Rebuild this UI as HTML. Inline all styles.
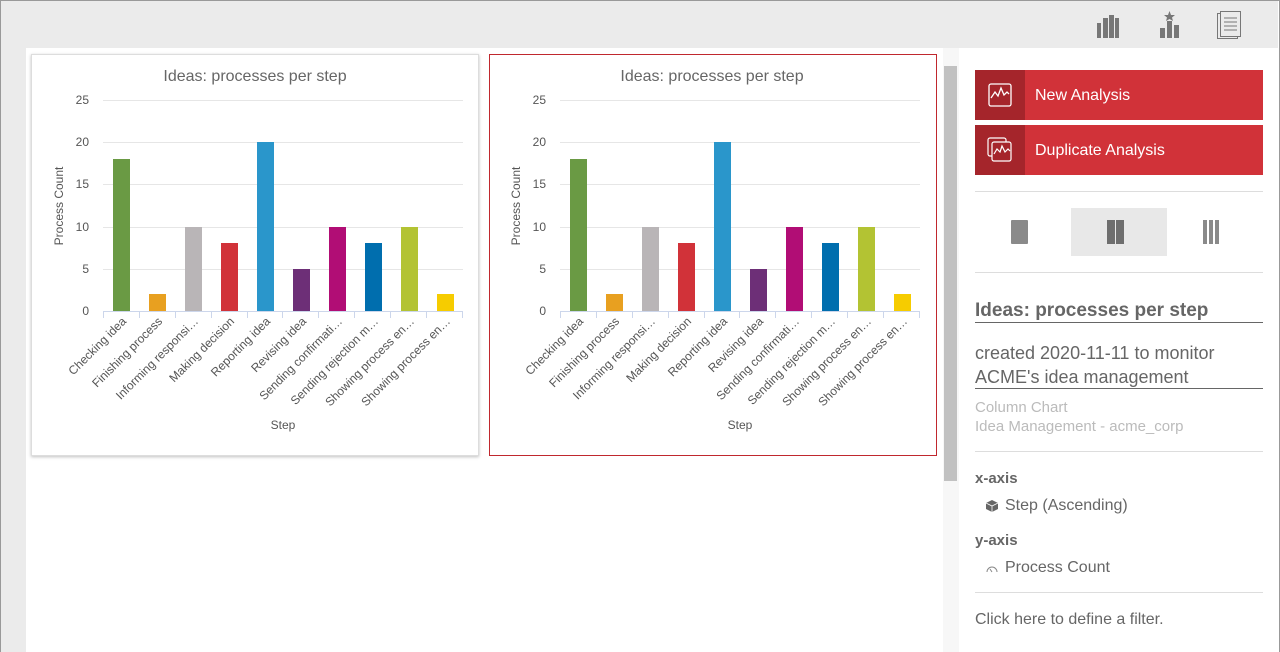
<!DOCTYPE html>
<html><head><meta charset="utf-8"><style>
*{margin:0;padding:0;box-sizing:border-box}
body{width:1280px;height:652px;overflow:hidden;background:#fff;font-family:"Liberation Sans",sans-serif;position:relative}
.a{position:absolute}
.btn{position:absolute;left:975px;width:288px;height:50px;background:#d13239;color:#fff;font-size:16px;line-height:52px}
.btn .ic{position:absolute;left:0;top:0;width:50px;height:50px;background:#a5252b}
.btn span{position:absolute;left:60px}
.hr{position:absolute;left:975px;width:288px;height:1px;background:#ddd}
</style></head><body>
<div class="a" style="left:0;top:0;width:1280px;height:652px;border:1px solid #999;border-bottom:none"></div>
<div class="a" style="left:1px;top:1px;width:1277px;height:47px;background:#ebebeb"></div>
<div class="a" style="left:1px;top:48px;width:25px;height:604px;background:#ebebeb"></div>
<svg class="a" style="left:1090px;top:8px" width="170" height="36">
<g fill="#777"><rect x="7" y="15" width="4" height="15"/><rect x="13" y="10" width="5" height="20"/><rect x="19" y="7" width="5" height="23"/><rect x="25" y="10" width="4" height="20"/>
<rect x="70" y="20" width="5" height="10"/><rect x="77" y="13" width="5" height="17"/><rect x="84" y="17" width="5" height="13"/>
<polygon points="79.5,3 81,7 85,7 82,9.5 83,13 79.5,11 76,13 77,9.5 74,7 78,7"/></g>
<g fill="none" stroke="#777" stroke-width="1"><rect x="127.5" y="5.5" width="20" height="25"/><rect x="130.5" y="3.5" width="20" height="25" fill="#ebebeb"/>
<path d="M134 10h13M134 14h13M134 18h13M134 22h13"/></g>
</svg>
<div class="a" style="left:943px;top:48px;width:16px;height:604px;background:#f7f7f7"></div>
<div class="a" style="left:944px;top:66px;width:13px;height:415px;background:#c1c1c1"></div>
<div class="a" style="left:31px;top:54px;width:448px;height:402px;border:1px solid #ddd;box-shadow:0 1px 3px rgba(0,0,0,.25)"></div>
<div class="a" style="left:489px;top:54px;width:448px;height:402px;border:1px solid #c0282e"></div>
<svg class="a" style="left:0;top:0" width="943" height="470" font-family="Liberation Sans, sans-serif">
<defs><g id="ch">
<text x="255" y="81" text-anchor="middle" font-size="16" fill="#666">Ideas: processes per step</text>
<g stroke="#e6e6e6" stroke-width="1"><path d="M103 100.5H463M103 142.5H463M103 184.5H463M103 227.5H463M103 269.5H463"/></g>
<g font-size="12" fill="#555" text-anchor="end"><text x="89" y="104">25</text><text x="89" y="146">20</text><text x="89" y="188">15</text><text x="89" y="231">10</text><text x="89" y="273">5</text><text x="89" y="315">0</text></g>
<text transform="translate(63,206) rotate(-90)" text-anchor="middle" font-size="12" fill="#555">Process Count</text>
<rect x="113" y="159" width="17" height="152" fill="#6a9a44"/>
<rect x="149" y="294" width="17" height="17" fill="#e8a020"/>
<rect x="185" y="227" width="17" height="84" fill="#b9b5b7"/>
<rect x="221" y="243" width="17" height="68" fill="#d13239"/>
<rect x="257" y="142" width="17" height="169" fill="#2a96cb"/>
<rect x="293" y="269" width="17" height="42" fill="#6d2f77"/>
<rect x="329" y="227" width="17" height="84" fill="#b10d75"/>
<rect x="365" y="243" width="17" height="68" fill="#006eae"/>
<rect x="401" y="227" width="17" height="84" fill="#b3c333"/>
<rect x="437" y="294" width="17" height="17" fill="#f6cc00"/>
<path d="M103 311.5H463M103.5 311V318M139.5 311V318M175.5 311V318M211.5 311V318M247.5 311V318M282.5 311V318M318.5 311V318M354.5 311V318M390.5 311V318M426.5 311V318M462.5 311V318" stroke="#ccd6eb" stroke-width="1"/>
<g font-size="12" fill="#555" text-anchor="end">
<text transform="translate(127,322) rotate(-45)">Checking idea</text>
<text transform="translate(163,322) rotate(-45)">Finishing process</text>
<text transform="translate(199,322) rotate(-45)">Informing responsi…</text>
<text transform="translate(235,322) rotate(-45)">Making decision</text>
<text transform="translate(271,322) rotate(-45)">Reporting idea</text>
<text transform="translate(307,322) rotate(-45)">Revising idea</text>
<text transform="translate(343,322) rotate(-45)">Sending confirmati…</text>
<text transform="translate(379,322) rotate(-45)">Sending rejection m…</text>
<text transform="translate(415,322) rotate(-45)">Showing process en…</text>
<text transform="translate(451,322) rotate(-45)">Showing process en…</text>
</g>
<text x="283" y="429" text-anchor="middle" font-size="12" fill="#555">Step</text>
</g></defs>
<use href="#ch"/>
<use href="#ch" transform="translate(457,0)"/>
</svg>
<div class="btn" style="top:70px"><div class="ic"><svg width="50" height="50"><rect x="14" y="14" width="22" height="22" rx="2" fill="none" stroke="#fff" stroke-width="1.3"/><path d="M16 28l4-6 3 4 3-8 3 7 3-3 2 2" fill="none" stroke="#fff" stroke-width="1.3"/></svg></div><span>New Analysis</span></div>
<div class="btn" style="top:125px"><div class="ic"><svg width="50" height="50"><rect x="13" y="13" width="18" height="18" rx="2" fill="none" stroke="#fff" stroke-width="1.2"/><rect x="17" y="17" width="19" height="19" rx="2" fill="#a5252b" stroke="#fff" stroke-width="1.2"/><path d="M19 29l3-5 3 3 2-6 3 6 3-3 2 2" fill="none" stroke="#fff" stroke-width="1.2"/></svg></div><span>Duplicate Analysis</span></div>
<div class="hr" style="top:191px"></div>
<div class="a" style="left:1071px;top:208px;width:96px;height:48px;background:#e8e8e8"></div>
<div class="a" style="left:1011px;top:220px;width:17px;height:24px;background:#8a8a8a;border-radius:1px"></div>
<div class="a" style="left:1107px;top:220px;width:8px;height:24px;background:#6e6e6e"></div>
<div class="a" style="left:1116px;top:220px;width:8px;height:24px;background:#6e6e6e"></div>
<div class="a" style="left:1203px;top:220px;width:4px;height:24px;background:#8a8a8a"></div>
<div class="a" style="left:1209px;top:220px;width:4px;height:24px;background:#8a8a8a"></div>
<div class="a" style="left:1215px;top:220px;width:4px;height:24px;background:#8a8a8a"></div>
<div class="hr" style="top:272px"></div>
<div class="a" style="left:975px;top:300px;font-size:19px;font-weight:bold;color:#666">Ideas: processes per step</div>
<div class="a" style="left:975px;top:322px;width:288px;height:1px;background:#666"></div>
<div class="a" style="left:975px;top:341px;font-size:18px;color:#666;line-height:24px">created 2020-11-11 to monitor<br>ACME's idea management</div>
<div class="a" style="left:975px;top:388px;width:288px;height:1px;background:#666"></div>
<div class="a" style="left:975px;top:398px;font-size:15px;color:#bbb;line-height:19px">Column Chart<br>Idea Management - acme_corp</div>
<div class="hr" style="top:451px"></div>
<div class="a" style="left:975px;top:470px;font-size:15px;font-weight:bold;color:#666">x-axis</div>
<svg class="a" style="left:985px;top:499px" width="14" height="14"><path d="M7 1l6 3v6l-6 3-6-3V4z" fill="#666"/><path d="M1 4l6 3 6-3M7 7v6" stroke="#fff" stroke-width="0.8" fill="none"/></svg>
<div class="a" style="left:1005px;top:497px;font-size:16px;color:#666">Step (Ascending)</div>
<div class="a" style="left:975px;top:532px;font-size:15px;font-weight:bold;color:#666">y-axis</div>
<svg class="a" style="left:985px;top:562px" width="14" height="12"><path d="M2 10a5 5 0 0 1 10 0" fill="none" stroke="#888" stroke-width="1"/><path d="M7 10l-2-3" stroke="#888"/></svg>
<div class="a" style="left:1005px;top:559px;font-size:16px;color:#666">Process Count</div>
<div class="hr" style="top:592px"></div>
<div class="a" style="left:975px;top:611px;font-size:16px;color:#666">Click here to define a filter.</div>
</body></html>
